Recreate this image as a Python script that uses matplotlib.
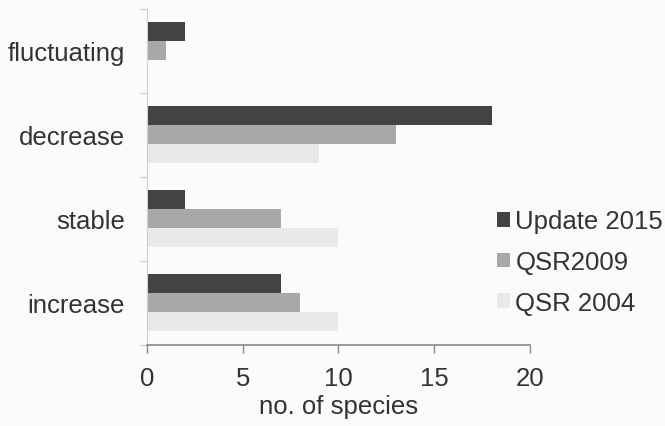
import matplotlib.pyplot as plt
import numpy as np

plt.rcParams['font.family'] = ['Liberation Sans', 'DejaVu Sans']

categories = ['increase', 'stable', 'decrease', 'fluctuating']
series_names = ['Update 2015', 'QSR2009', 'QSR 2004']
update_2015 = [7, 2, 18, 2]
qsr_2009 = [8, 7, 13, 1]
qsr_2004 = [10, 10, 9, 0]

colors = ['#434343', '#a8a8a8', '#e9e9e9']
bg = '#fbfbfb'

fig = plt.figure(figsize=(6.65, 4.27), dpi=100, facecolor=bg)
ax = fig.add_axes([0.221, 0.19, 0.576, 0.787], facecolor=bg)

y = np.arange(len(categories))
h = 0.227
for vals, off, c, name in zip([update_2015, qsr_2009, qsr_2004], [h, 0, -h], colors, series_names):
    ax.barh(y + off, vals, height=h, color=c, label=name)

ax.set_xlim(0, 20)
ax.set_ylim(-0.5, 3.5)
ax.set_xticks([0, 5, 10, 15, 20])
ax.tick_params(axis='x', labelsize=18.5, colors='#8a8a8a', length=6, width=1,
               pad=9, labelcolor='#333333')
ax.set_yticks(np.arange(-0.5, 3.6, 1.0))
ax.set_yticklabels([])
ax.tick_params(axis='y', which='major', length=5, color='#cccccc')
ax.set_yticks(y, minor=True)
ax.set_yticklabels(categories, minor=True)
ax.tick_params(axis='y', which='minor', length=0, labelsize=18.5, pad=16,
               labelcolor='#333333')

for s in ['top', 'right']:
    ax.spines[s].set_visible(False)
ax.spines['left'].set_color('#d0d0d0')
ax.spines['bottom'].set_color('#8a8a8a')
ax.spines['bottom'].set_linewidth(1.2)

ax.set_xlabel('no. of species', fontsize=18.5, color='#333333', labelpad=3)

fig.legend(loc='center left', bbox_to_anchor=(0.713, 0.384), frameon=False,
           fontsize=18.5, handlelength=0.5, handleheight=0.5, handletextpad=0.2,
           labelspacing=0.65, labelcolor='#333333')

fig.savefig('out.png', dpi=100, facecolor=bg)
